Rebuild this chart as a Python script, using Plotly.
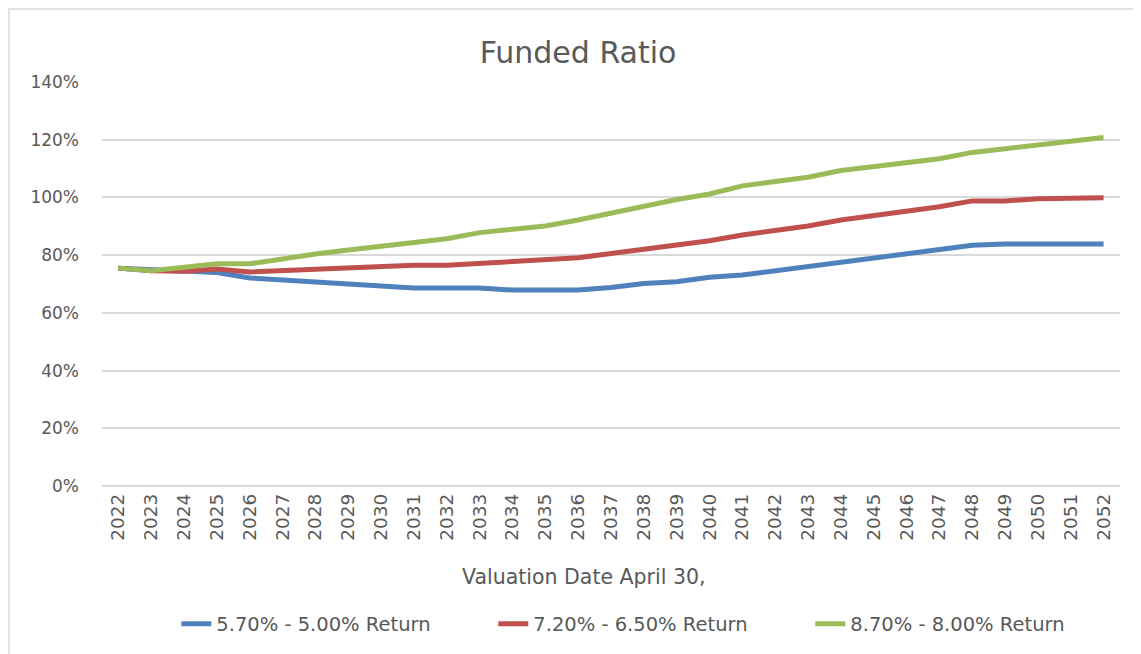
import plotly.graph_objects as go

years = [str(y) for y in range(2022, 2053)]
blue = [75.5, 74.9, 74.2, 74.0, 72.1, 71.4, 70.6, 69.9, 69.3, 68.6, 68.6, 68.6, 67.9, 67.9, 67.9, 68.8,
        70.2, 70.8, 72.3, 73.1, 74.6, 76.0, 77.5, 78.9, 80.8, 82.1, 83.4, 83.9, 83.9, 83.9, 83.9]
red = [75.5, 74.6, 74.4, 75.2, 74.2, 74.7, 75.0, 75.5, 75.9, 76.5, 76.5, 77.2, 77.9, 78.4, 79.1, 80.6,
       82.0, 83.5, 85.0, 87.0, 88.5, 90.1, 92.2, 93.6, 95.4, 96.8, 98.8, 98.8, 99.5, 99.5, 99.9]
green = [75.5, 74.6, 75.8, 77.0, 77.0, 78.8, 80.4, 81.8, 83.2, 84.6, 85.7, 87.8, 89.1, 90.1, 92.2, 94.6,
         96.6, 99.3, 101.2, 104.0, 105.5, 107.0, 109.3, 110.7, 112.0, 113.4, 115.6, 117.0, 118.4, 119.7, 120.8]
names = ["5.70% - 5.00% Return", "7.20% - 6.50% Return", "8.70% - 8.00% Return"]
colors = ["#4F81BD", "#C0504D", "#9BBB59"]

fig = go.Figure()
for vals, name, c in zip([blue, red, green], names, colors):
    fig.add_trace(go.Scatter(x=years, y=[v / 100 for v in vals], mode="lines", name=name,
                             line=dict(color=c, width=5)))

font = "DejaVu Sans, sans-serif"
fig.update_layout(
    width=1141, height=654,
    margin=dict(l=94, r=29, t=74, b=176, autoexpand=False),
    paper_bgcolor="white", plot_bgcolor="white",
    title=dict(text="Funded Ratio", x=0.4996, xanchor="center", xref="container", y=0.9327,
               yanchor="middle", yref="container",
               font=dict(family=font, size=30, color="#595959")),
    font=dict(family=font, color="#595959"),
    showlegend=True,
    legend=dict(orientation="h", x=0.073, xanchor="left", y=-0.3416, yanchor="middle",
                yref="paper", font=dict(size=19.5, color="#595959"), traceorder="normal",
                entrywidth=272, entrywidthmode="pixels", bgcolor="rgba(0,0,0,0)"),
    xaxis=dict(type="category", tickangle=-90, tickfont=dict(size=18.5, color="#595959"),
               showgrid=False, showline=False, ticks="", range=[-0.5, 30.5], automargin=False,
               ticklabelstandoff=3),
    yaxis=dict(range=[0, 1.4], dtick=0.2, tickformat=".0%", tickfont=dict(size=17, color="#595959"),
               gridcolor="#D9D9D9", gridwidth=1.5, zeroline=True, zerolinecolor="#D9D9D9",
               zerolinewidth=1.5, ticks="", ticklabelstandoff=22, automargin=False),
    annotations=[dict(text="Valuation Date April 30,", xref="paper", yref="paper", x=0.473, y=-0.225,
                      showarrow=False, font=dict(size=20.5, color="#595959"), yanchor="middle")],
    shapes=[dict(type="rect", xref="paper", yref="paper", x0=-0.0914, x1=1.1, y0=-0.5, y1=1.1807,
                 line=dict(color="#D9D9D9", width=1.5), fillcolor="rgba(0,0,0,0)")],
)
fig.write_html("out.html")
